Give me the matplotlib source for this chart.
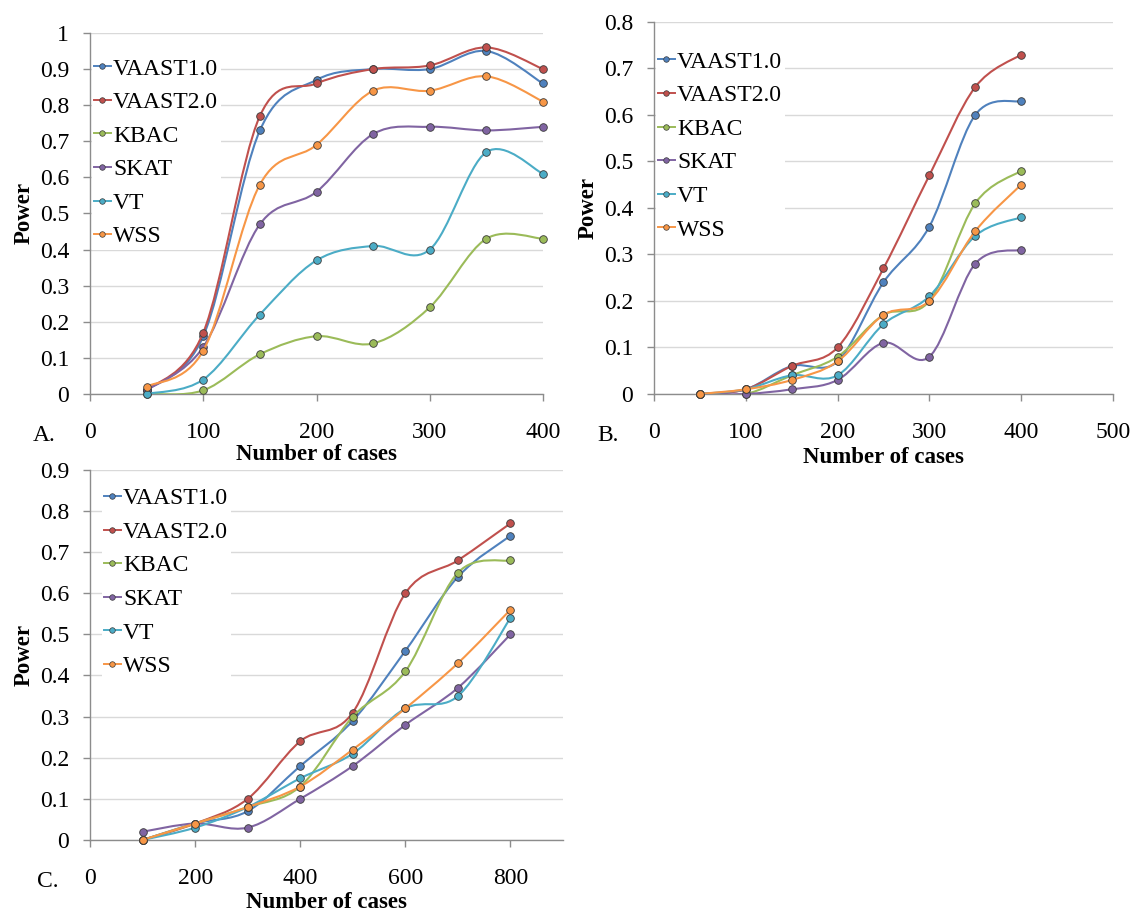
import numpy as np
import matplotlib
matplotlib.use("Agg")
import matplotlib.pyplot as plt
from matplotlib.path import Path
from matplotlib.patches import PathPatch
from matplotlib.lines import Line2D

plt.rcParams['font.family'] = ['Liberation Serif', 'DejaVu Serif']

methods = ["VAAST1.0", "VAAST2.0", "KBAC", "SKAT", "VT", "WSS"]
colors = ["#4F81BD", "#C0504D", "#9BBB59", "#8064A2", "#4BACC6", "#F79646"]

# panel A
cases_a = [50, 100, 150, 200, 250, 300, 350, 400]
power_a = [
    [0.01, 0.16, 0.73, 0.87, 0.90, 0.90, 0.95, 0.86],
    [0.01, 0.17, 0.77, 0.86, 0.90, 0.91, 0.96, 0.90],
    [0.00, 0.01, 0.11, 0.16, 0.14, 0.24, 0.43, 0.43],
    [0.01, 0.13, 0.47, 0.56, 0.72, 0.74, 0.73, 0.74],
    [0.00, 0.04, 0.22, 0.37, 0.41, 0.40, 0.67, 0.61],
    [0.02, 0.12, 0.58, 0.69, 0.84, 0.84, 0.88, 0.81],
]

# panel B
cases_b = [50, 100, 150, 200, 250, 300, 350, 400]
power_b = [
    [0.00, 0.01, 0.06, 0.07, 0.24, 0.36, 0.60, 0.63],
    [0.00, 0.01, 0.06, 0.10, 0.27, 0.47, 0.66, 0.73],
    [0.00, 0.00, 0.04, 0.08, 0.17, 0.20, 0.41, 0.48],
    [0.00, 0.00, 0.01, 0.03, 0.11, 0.08, 0.28, 0.31],
    [0.00, 0.01, 0.04, 0.04, 0.15, 0.21, 0.34, 0.38],
    [0.00, 0.01, 0.03, 0.07, 0.17, 0.20, 0.35, 0.45],
]

# panel C
cases_c = [100, 200, 300, 400, 500, 600, 700, 800]
power_c = [
    [0.00, 0.04, 0.07, 0.18, 0.29, 0.46, 0.64, 0.74],
    [0.00, 0.04, 0.10, 0.24, 0.31, 0.60, 0.68, 0.77],
    [0.00, 0.04, 0.08, 0.13, 0.30, 0.41, 0.65, 0.68],
    [0.02, 0.04, 0.03, 0.10, 0.18, 0.28, 0.37, 0.50],
    [0.00, 0.03, 0.08, 0.15, 0.21, 0.32, 0.35, 0.54],
    [0.00, 0.04, 0.08, 0.13, 0.22, 0.32, 0.43, 0.56],
]


def smooth_path(xs, ys):
    # bezier through the points, like excel's "smoothed line"
    pts = list(zip(xs, ys))
    n = len(pts)
    verts = [pts[0]]
    codes = [Path.MOVETO]
    for i in range(n - 1):
        p0 = pts[max(i - 1, 0)]
        p1 = pts[i]
        p2 = pts[i + 1]
        p3 = pts[min(i + 2, n - 1)]
        c1 = (p1[0] + (p2[0] - p0[0]) / 6, p1[1] + (p2[1] - p0[1]) / 6)
        c2 = (p2[0] - (p3[0] - p1[0]) / 6, p2[1] - (p3[1] - p1[1]) / 6)
        verts += [c1, c2, p2]
        codes += [Path.CURVE4] * 3
    return Path(verts, codes)


fig = plt.figure(figsize=(11.31, 9.13), dpi=100)

panels = [
    # rect, cases, power, xlim, xticks, ylim top, legend anchor, ylabel x, xlabel y
    ([0.0796, 0.5685, 0.4005, 0.3954], cases_a, power_a, 400, np.arange(0, 401, 100), 1.0, (0.004, 0.937), -0.122, -0.140),
    ([0.5782, 0.5685, 0.4058, 0.4074], cases_b, power_b, 500, np.arange(0, 501, 100), 0.8, (0.004, 0.928), -0.121, -0.143),
    ([0.0796, 0.0800, 0.4182, 0.4053], cases_c, power_c, 900, np.arange(0, 801, 200), 0.9, (0.025, 0.958), -0.117, -0.141),
]

for rect, cases, power, xmax, xticks, ytop, anchor, ylx, xly in panels:
    ax = fig.add_axes(rect)
    for k, vals in enumerate(power):
        patch = PathPatch(smooth_path(cases, vals), facecolor='none', edgecolor=colors[k],
                          lw=1.5, capstyle='round', joinstyle='round', zorder=3 + k)
        ax.add_patch(patch)
        ax.plot(cases, vals, 'o', ms=5.5, mfc=colors[k], mec='#3a3a3a', mew=0.6,
                linestyle='none', zorder=3 + k, clip_on=False)

    ax.set_xlim(0, xmax)
    ax.set_ylim(0, ytop)
    ax.set_xticks(xticks)
    yt = np.round(np.arange(0, ytop + 0.001, 0.1), 1)
    ax.set_yticks(yt)
    ax.set_yticklabels(["0" if v == 0 else ("1" if v == 1 else f"{v:.1f}") for v in yt])

    ax.yaxis.grid(True, color='#D9D9D9', lw=1)
    ax.set_axisbelow(True)
    for s in ['top', 'right']:
        ax.spines[s].set_visible(False)
    for s in ['left', 'bottom']:
        ax.spines[s].set_color('#8C8C8C')
        ax.spines[s].set_linewidth(1)
    ax.tick_params(axis='both', direction='out', length=5, width=1, color='#8C8C8C', labelsize=17)
    ax.tick_params(axis='x', pad=15)
    ax.tick_params(axis='y', pad=10)

    ax.set_xlabel("Number of cases", fontsize=16.5, fontweight='bold')
    ax.xaxis.set_label_coords(0.5, xly)
    ax.set_ylabel("Power", fontsize=16.5, fontweight='bold')
    ax.yaxis.set_label_coords(ylx, 0.5)

    handles = [Line2D([], [], color=c, lw=1.4, marker='o', ms=4, mfc=c, mec='#3a3a3a', mew=0.5)
               for c in colors]
    leg = ax.legend(handles, methods, loc='upper left', bbox_to_anchor=anchor,
                    borderaxespad=0, borderpad=0.1, frameon=True, fancybox=False,
                    facecolor='white', framealpha=1, fontsize=17, handlelength=0.7,
                    handletextpad=0.1, labelspacing=0.51)
    leg.get_frame().set_linewidth(0)
    leg.set_zorder(2)

fig.text(33 / 1131, 1 - 441 / 913, "A.", fontsize=17, va='baseline')
fig.text(597 / 1131, 1 - 441 / 913, "B.", fontsize=17, va='baseline')
fig.text(37 / 1131, 1 - 887 / 913, "C.", fontsize=17, va='baseline')

fig.savefig("out.png", dpi=100)
